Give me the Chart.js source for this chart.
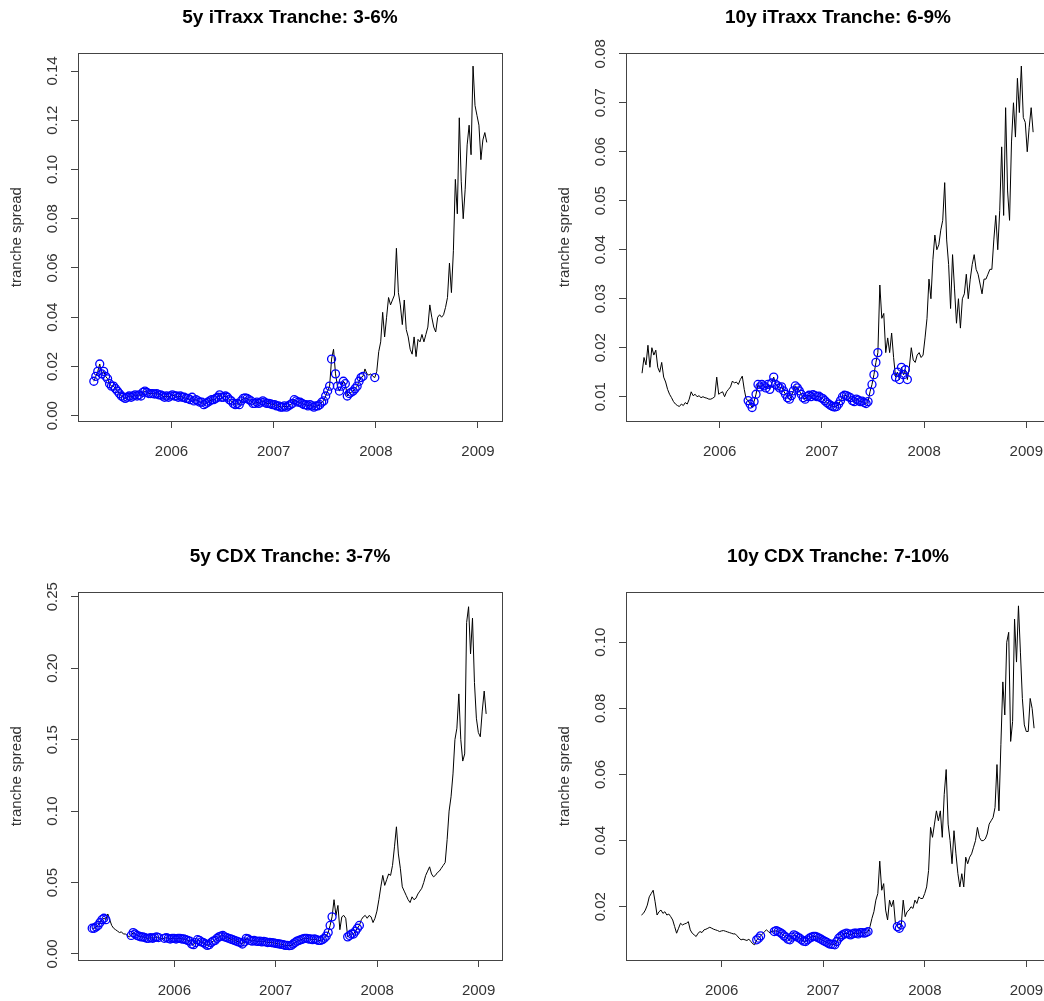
<!DOCTYPE html>
<html>
<head>
<meta charset="utf-8">
<script src="https://cdn.jsdelivr.net/npm/chart.js@4.4.1/dist/chart.umd.min.js"></script>
<style>
html, body { margin: 0; padding: 0; background: #fff; }
#page { position: relative; width: 1044px; height: 1001px; overflow: hidden; background: #fff; }
.panel { position: absolute; width: 522px; height: 470px; }
</style>
</head>
<body>
<div id="page">
  <div class="panel" style="left:0;top:0"><canvas id="c1" width="522" height="470"></canvas></div>
  <div class="panel" style="left:548px;top:0"><canvas id="c2" width="522" height="470"></canvas></div>
  <div class="panel" style="left:0;top:539px"><canvas id="c3" width="522" height="470"></canvas></div>
  <div class="panel" style="left:548px;top:539px"><canvas id="c4" width="522" height="470"></canvas></div>
</div>
<script>
// weekly tranche spreads
const titles = ['5y iTraxx Tranche: 3-6%', '10y iTraxx Tranche: 6-9%', '5y CDX Tranche: 3-7%', '10y CDX Tranche: 7-10%'];
const yearTicks = [2006, 2007, 2008, 2009];

// first observation of each series (decimal year), one value per week after that
const itraxx5Start = 2005.24;
const itraxx10Start = 2005.24;
const cdx5Start = 2005.19;
const cdx10Start = 2005.21;

const itraxx5Spread = [
  0.014, 0.016, 0.018, 0.021, 0.017, 0.018, 0.016, 0.015, 0.013, 0.012,
  0.012, 0.011, 0.010, 0.009, 0.008, 0.0075, 0.007, 0.0075, 0.008, 0.0075,
  0.008, 0.0085, 0.008, 0.0085, 0.008, 0.0095, 0.010, 0.0095, 0.009, 0.009,
  0.009, 0.0088, 0.009, 0.0085, 0.0085, 0.008, 0.0075, 0.008, 0.0075, 0.008,
  0.0085, 0.008, 0.008, 0.0075, 0.008, 0.0075, 0.0075, 0.007, 0.007, 0.0065,
  0.0075, 0.006, 0.0065, 0.006, 0.0055, 0.0055, 0.0045, 0.005, 0.0055, 0.006,
  0.0065, 0.0065, 0.007, 0.0075, 0.0085, 0.0075, 0.0075, 0.008, 0.0075, 0.0065,
  0.006, 0.005, 0.0045, 0.005, 0.0045, 0.006, 0.007, 0.0072, 0.007, 0.0065,
  0.006, 0.005, 0.005, 0.0055, 0.005, 0.0055, 0.006, 0.0055, 0.005, 0.005,
  0.0048, 0.0045, 0.0045, 0.004, 0.004, 0.0035, 0.0035, 0.004, 0.0035, 0.004,
  0.0045, 0.005, 0.0065, 0.006, 0.0055, 0.0055, 0.005, 0.0045, 0.0045, 0.004,
  0.0045, 0.004, 0.0035, 0.004, 0.004, 0.0045, 0.0055, 0.006, 0.008, 0.010,
  0.012, 0.023, 0.027, 0.017, 0.012, 0.010, 0.012, 0.014, 0.013, 0.008,
  0.009, 0.0095, 0.010, 0.011, 0.012, 0.014, 0.0155, 0.016, 0.019, 0.017,
  0.0165, 0.017, 0.016, 0.0155, 0.018, 0.026, 0.030, 0.042, 0.032, 0.040,
  0.048, 0.045, 0.047, 0.049, 0.068, 0.050, 0.045, 0.037, 0.047, 0.035,
  0.032, 0.027, 0.025, 0.032, 0.024, 0.031, 0.030, 0.033, 0.030, 0.033,
  0.036, 0.045, 0.040, 0.036, 0.034, 0.040, 0.041, 0.040, 0.041, 0.044,
  0.048, 0.062, 0.050, 0.067, 0.096, 0.082, 0.121, 0.095, 0.080, 0.092,
  0.110, 0.118, 0.106, 0.142, 0.126, 0.122, 0.118, 0.104, 0.112, 0.115,
  0.111
];
const itraxx10Spread = [
  0.0148, 0.018, 0.0165, 0.0205, 0.016, 0.020, 0.0185, 0.0195, 0.016, 0.015,
  0.017, 0.014, 0.013, 0.0115, 0.0105, 0.0098, 0.009, 0.0085, 0.0082, 0.008,
  0.0085, 0.0082, 0.0088, 0.0085, 0.0095, 0.011, 0.0102, 0.0105, 0.010, 0.0102,
  0.0098, 0.010, 0.0098, 0.0097, 0.0095, 0.0095, 0.0097, 0.010, 0.014, 0.0105,
  0.0108, 0.011, 0.010, 0.011, 0.0115, 0.012, 0.0132, 0.0128, 0.013, 0.0125,
  0.0135, 0.0142, 0.0115, 0.0095, 0.0092, 0.0085, 0.0078, 0.009, 0.0105, 0.0125,
  0.012, 0.0125, 0.0122, 0.0118, 0.0125, 0.0115, 0.0128, 0.014, 0.0125, 0.0122,
  0.0118, 0.012, 0.0112, 0.0105, 0.0098, 0.0095, 0.0102, 0.0112, 0.0122, 0.0118,
  0.0112, 0.0105, 0.0098, 0.0095, 0.010, 0.0103, 0.010, 0.0104, 0.0102, 0.010,
  0.0101, 0.0098, 0.0096, 0.0092, 0.0088, 0.0085, 0.0082, 0.008, 0.0079, 0.008,
  0.0085, 0.0092, 0.010, 0.0103, 0.0102, 0.010, 0.0098, 0.0092, 0.009, 0.0095,
  0.0093, 0.009, 0.0091, 0.0088, 0.0086, 0.009, 0.011, 0.0125, 0.0145, 0.017,
  0.019, 0.0328, 0.026, 0.027, 0.019, 0.022, 0.019, 0.023, 0.018, 0.014,
  0.015, 0.0135, 0.016, 0.0145, 0.0155, 0.0135, 0.016, 0.020, 0.0175, 0.017,
  0.0185, 0.019, 0.018, 0.0185, 0.022, 0.026, 0.034, 0.030, 0.038, 0.043,
  0.040, 0.041, 0.044, 0.046, 0.0537, 0.042, 0.037, 0.028, 0.039, 0.032,
  0.025, 0.030, 0.024, 0.030, 0.031, 0.035, 0.030, 0.034, 0.037, 0.039,
  0.036, 0.035, 0.033, 0.031, 0.034, 0.034, 0.035, 0.036, 0.036, 0.042,
  0.047, 0.040, 0.048, 0.061, 0.047, 0.069, 0.052, 0.046, 0.062, 0.070,
  0.063, 0.075, 0.068, 0.0775, 0.067, 0.066, 0.060, 0.065, 0.069, 0.064
];
const cdx5Spread = [
  0.018, 0.018, 0.019, 0.020, 0.022, 0.024, 0.025, 0.024, 0.028, 0.024,
  0.020, 0.018, 0.017, 0.016, 0.015, 0.0155, 0.014, 0.014, 0.013, 0.012,
  0.013, 0.015, 0.014, 0.013, 0.0125, 0.012, 0.012, 0.0115, 0.011, 0.011,
  0.0115, 0.011, 0.0115, 0.012, 0.0115, 0.011, 0.0105, 0.011, 0.0115, 0.011,
  0.0105, 0.011, 0.011, 0.0105, 0.011, 0.011, 0.0105, 0.0105, 0.010, 0.0095,
  0.009, 0.007, 0.0065, 0.008, 0.010, 0.0095, 0.0085, 0.008, 0.007, 0.006,
  0.0065, 0.008, 0.009, 0.0095, 0.011, 0.012, 0.0125, 0.013, 0.012, 0.0115,
  0.011, 0.0105, 0.010, 0.0095, 0.009, 0.0085, 0.008, 0.007, 0.0085, 0.011,
  0.0105, 0.0095, 0.009, 0.0095, 0.009, 0.0088, 0.009, 0.0085, 0.0088, 0.0085,
  0.008, 0.0082, 0.008, 0.0078, 0.0075, 0.0072, 0.007, 0.0068, 0.0065, 0.006,
  0.006, 0.0058, 0.006, 0.007, 0.008, 0.009, 0.0095, 0.010, 0.0105, 0.011,
  0.011, 0.0105, 0.0105, 0.010, 0.0105, 0.010, 0.0095, 0.0095, 0.010, 0.011,
  0.0125, 0.015, 0.020, 0.026, 0.038, 0.027, 0.034, 0.017, 0.026, 0.027,
  0.025, 0.012, 0.013, 0.014, 0.014, 0.016, 0.018, 0.020, 0.024, 0.026,
  0.027, 0.025, 0.027, 0.026, 0.022, 0.025, 0.030, 0.038, 0.047, 0.055,
  0.048, 0.052, 0.056, 0.055, 0.062, 0.075, 0.089, 0.070, 0.060, 0.047,
  0.044, 0.041, 0.038, 0.036, 0.040, 0.038, 0.039, 0.042, 0.044, 0.046,
  0.050, 0.055, 0.058, 0.061, 0.056, 0.054, 0.055, 0.057, 0.058, 0.060,
  0.062, 0.064, 0.080, 0.100, 0.110, 0.126, 0.150, 0.158, 0.182, 0.150,
  0.135, 0.140, 0.232, 0.243, 0.210, 0.235, 0.190, 0.165, 0.155, 0.152,
  0.170, 0.184, 0.168
];
const cdx10Spread = [
  0.0175, 0.018, 0.019, 0.0205, 0.023, 0.024, 0.025, 0.0215, 0.0175, 0.0185,
  0.019, 0.018, 0.0185, 0.0175, 0.0178, 0.017, 0.016, 0.014, 0.012, 0.0135,
  0.015, 0.0145, 0.0148, 0.015, 0.0155, 0.013, 0.012, 0.0115, 0.011, 0.012,
  0.0125, 0.0122, 0.013, 0.0132, 0.0135, 0.0138, 0.0135, 0.0132, 0.013, 0.0128,
  0.0125, 0.0127, 0.0128, 0.0126, 0.0124, 0.0122, 0.012, 0.0118, 0.0118, 0.0112,
  0.0105, 0.010, 0.0102, 0.010, 0.0098, 0.0102, 0.0095, 0.0088, 0.0085, 0.010,
  0.0105, 0.0112, 0.0118, 0.0125, 0.013, 0.0125, 0.012, 0.0128, 0.0125, 0.0128,
  0.0125, 0.0122, 0.0118, 0.0112, 0.0108, 0.0102, 0.010, 0.0108, 0.0115, 0.0112,
  0.0108, 0.0105, 0.010, 0.0096, 0.0095, 0.010, 0.0105, 0.0108, 0.011, 0.011,
  0.0108, 0.0105, 0.0102, 0.0098, 0.0095, 0.0092, 0.0088, 0.0087, 0.0086, 0.0085,
  0.0095, 0.0105, 0.011, 0.0115, 0.0118, 0.012, 0.0118, 0.0115, 0.0118, 0.012,
  0.012, 0.0118, 0.0122, 0.0122, 0.012, 0.0122, 0.0125, 0.014, 0.0165, 0.0185,
  0.022, 0.024, 0.0338, 0.025, 0.027, 0.019, 0.016, 0.022, 0.020, 0.022,
  0.015, 0.014, 0.0135, 0.0145, 0.022, 0.017, 0.0185, 0.019, 0.020, 0.0195,
  0.022, 0.021, 0.023, 0.0225, 0.0225, 0.024, 0.026, 0.031, 0.044, 0.041,
  0.045, 0.049, 0.046, 0.049, 0.041, 0.054, 0.0615, 0.045, 0.040, 0.033,
  0.043, 0.036, 0.030, 0.026, 0.030, 0.026, 0.035, 0.033, 0.035, 0.036,
  0.038, 0.040, 0.044, 0.041, 0.040, 0.040, 0.0405, 0.042, 0.045, 0.046,
  0.047, 0.050, 0.063, 0.049, 0.069, 0.088, 0.078, 0.100, 0.103, 0.070,
  0.076, 0.107, 0.094, 0.111, 0.097, 0.083, 0.075, 0.073, 0.073, 0.083,
  0.080, 0.074
];

// week index ranges that are marked with blue circles
const itraxx5Marked = [[0, 121], [123, 137], [143, 143]];
const itraxx10Marked = [[54, 120], [129, 135]];
const cdx5Marked = [[0, 7], [20, 34], [37, 123], [131, 137]];
const cdx10Marked = [[59, 61], [68, 116], [131, 133]];

// y tick labels of each panel
const itraxx5Ticks = [0, 0.02, 0.04, 0.06, 0.08, 0.10, 0.12, 0.14];
const itraxx10Ticks = [0.01, 0.02, 0.03, 0.04, 0.05, 0.06, 0.07, 0.08];
const cdx5Ticks = [0, 0.05, 0.10, 0.15, 0.20, 0.25];
const cdx10Ticks = [0.02, 0.04, 0.06, 0.08, 0.10];

Chart.defaults.font.family = "'Liberation Sans', Arial, sans-serif";

const frameBox = {
  id: 'frameBox',
  afterDraw(chart) {
    const a = chart.chartArea, ctx = chart.ctx;
    ctx.save();
    ctx.strokeStyle = '#444';
    ctx.lineWidth = 1;
    ctx.strokeRect(Math.round(a.left) + 0.5, Math.round(a.top) + 0.5,
      Math.round(a.right) - Math.round(a.left), Math.round(a.bottom) - Math.round(a.top));
    ctx.restore();
  }
};

function makePanel(id, title, start, values, marked, xRange, yRange, yTicks) {
  const line = values.map((v, i) => ({ x: start + i / 52, y: v }));
  const circles = line.filter((p, i) => marked.some(r => i >= r[0] && i <= r[1]));
  const axisGrid = { drawOnChartArea: false, drawTicks: true, tickLength: 7, tickColor: '#444', tickWidth: 1 };

  new Chart(document.getElementById(id), {
    type: 'line',
    data: {
      datasets: [{
        data: circles,
        showLine: false,
        pointStyle: 'circle',
        pointRadius: 4,
        pointBorderWidth: 1.3,
        pointBorderColor: '#0000ff',
        pointBackgroundColor: 'rgba(0,0,0,0)',
        order: 0
      }, {
        data: line,
        borderColor: '#000',
        borderWidth: 1,
        pointRadius: 0,
        tension: 0,
        order: 1
      }]
    },
    options: {
      responsive: false,
      animation: false,
      layout: { padding: { left: 0, right: 20, top: 0, bottom: 0 } },
      plugins: {
        legend: { display: false },
        tooltip: { enabled: false },
        title: {
          display: true,
          text: title,
          fullSize: false,
          color: '#000',
          font: { size: 19, weight: 'bold' },
          padding: { top: 6, bottom: 24.5 }
        }
      },
      scales: {
        x: {
          type: 'linear',
          min: xRange[0],
          max: xRange[1],
          afterBuildTicks: s => { s.ticks = yearTicks.map(v => ({ value: v })); },
          afterFit: s => { s.height = 49; },
          ticks: { autoSkip: false, maxRotation: 0, padding: 15, color: '#333', font: { size: 15 }, callback: v => String(v) },
          grid: axisGrid,
          border: { display: false }
        },
        y: {
          type: 'linear',
          min: yRange[0],
          max: yRange[1],
          afterBuildTicks: s => { s.ticks = yTicks.map(v => ({ value: v })); },
          afterFit: s => { s.width = 78; },
          ticks: { autoSkip: false, minRotation: 90, maxRotation: 90, crossAlign: 'center', padding: 4, color: '#333', font: { size: 15 }, callback: v => v.toFixed(2) },
          grid: axisGrid,
          border: { display: false },
          title: { display: true, text: 'tranche spread', color: '#333', font: { size: 15 }, padding: { top: 8, bottom: 0 } }
        }
      }
    },
    plugins: [frameBox]
  });
}

makePanel('c1', titles[0], itraxx5Start, itraxx5Spread, itraxx5Marked, [2005.085, 2009.235], [-0.00215, 0.1472], itraxx5Ticks);
makePanel('c2', titles[1], itraxx10Start, itraxx10Spread, itraxx10Marked, [2005.083, 2009.232], [0.00504, 0.0801], itraxx10Ticks);
makePanel('c3', titles[2], cdx5Start, cdx5Spread, cdx5Marked, [2005.05, 2009.231], [-0.0042, 0.2531], cdx5Ticks);
makePanel('c4', titles[3], cdx10Start, cdx10Spread, cdx10Marked, [2005.058, 2009.232], [0.0039, 0.1151], cdx10Ticks);
</script>
</body>
</html>
